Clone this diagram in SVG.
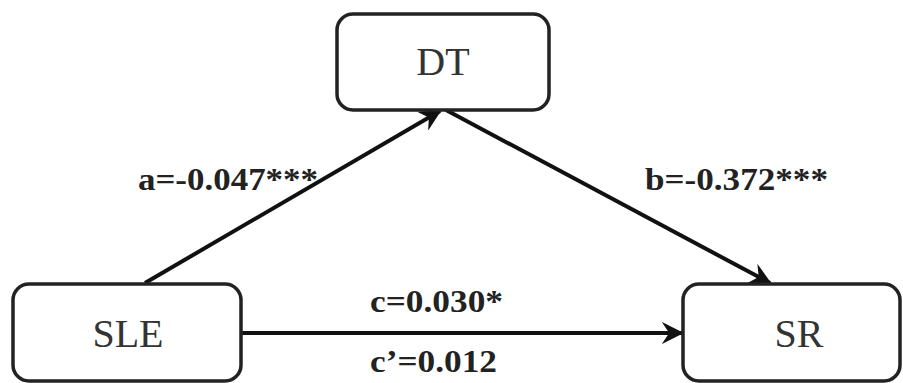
<svg xmlns="http://www.w3.org/2000/svg" width="903" height="383" viewBox="0 0 903 383">
<defs>
<style>
.box{fill:#fff;stroke:#222;stroke-width:3.5}
.node{font-family:"Liberation Serif","Times New Roman",serif;font-size:40px;fill:#333;text-anchor:middle}
.lbl{font-family:"Liberation Serif","Times New Roman",serif;font-size:31px;font-weight:bold;fill:#222}
.edge{stroke:#111;stroke-width:4;fill:none;marker-end:url(#arr)}
</style>
<marker id="arr" viewBox="0 0 12 12" refX="11" refY="6" markerWidth="5.5" markerHeight="5.5" orient="auto" markerUnits="strokeWidth">
<path d="M0,0 L12,6 L0,12 L4,6 z" fill="#111"/>
</marker>
</defs>
<rect width="903" height="383" fill="#fff"/>
<g id="connectors">
<line class="edge" x1="145" y1="283" x2="440" y2="111"/>
<line class="edge" x1="446" y1="110" x2="770" y2="283"/>
<line class="edge" x1="242" y1="333" x2="682" y2="333"/>
</g>
<g id="node-DT">
<rect class="box" x="337" y="14" width="212" height="96" rx="16"/>
<text class="node" x="443" y="75">DT</text>
</g>
<g id="node-SLE">
<rect class="box" x="13" y="284" width="228" height="97" rx="16"/>
<text class="node" x="128" y="347">SLE</text>
</g>
<g id="node-SR">
<rect class="box" x="683" y="284" width="217" height="97" rx="16"/>
<text class="node" x="799" y="347">SR</text>
</g>
<g id="labels">
<text class="lbl" x="138" y="190" textLength="180" lengthAdjust="spacingAndGlyphs">a=-0.047***</text>
<text class="lbl" x="645" y="190" textLength="183" lengthAdjust="spacingAndGlyphs">b=-0.372***</text>
<text class="lbl" x="370" y="312" textLength="133" lengthAdjust="spacingAndGlyphs">c=0.030*</text>
<text class="lbl" x="370" y="372" textLength="127" lengthAdjust="spacingAndGlyphs">c’=0.012</text>
</g>
</svg>
